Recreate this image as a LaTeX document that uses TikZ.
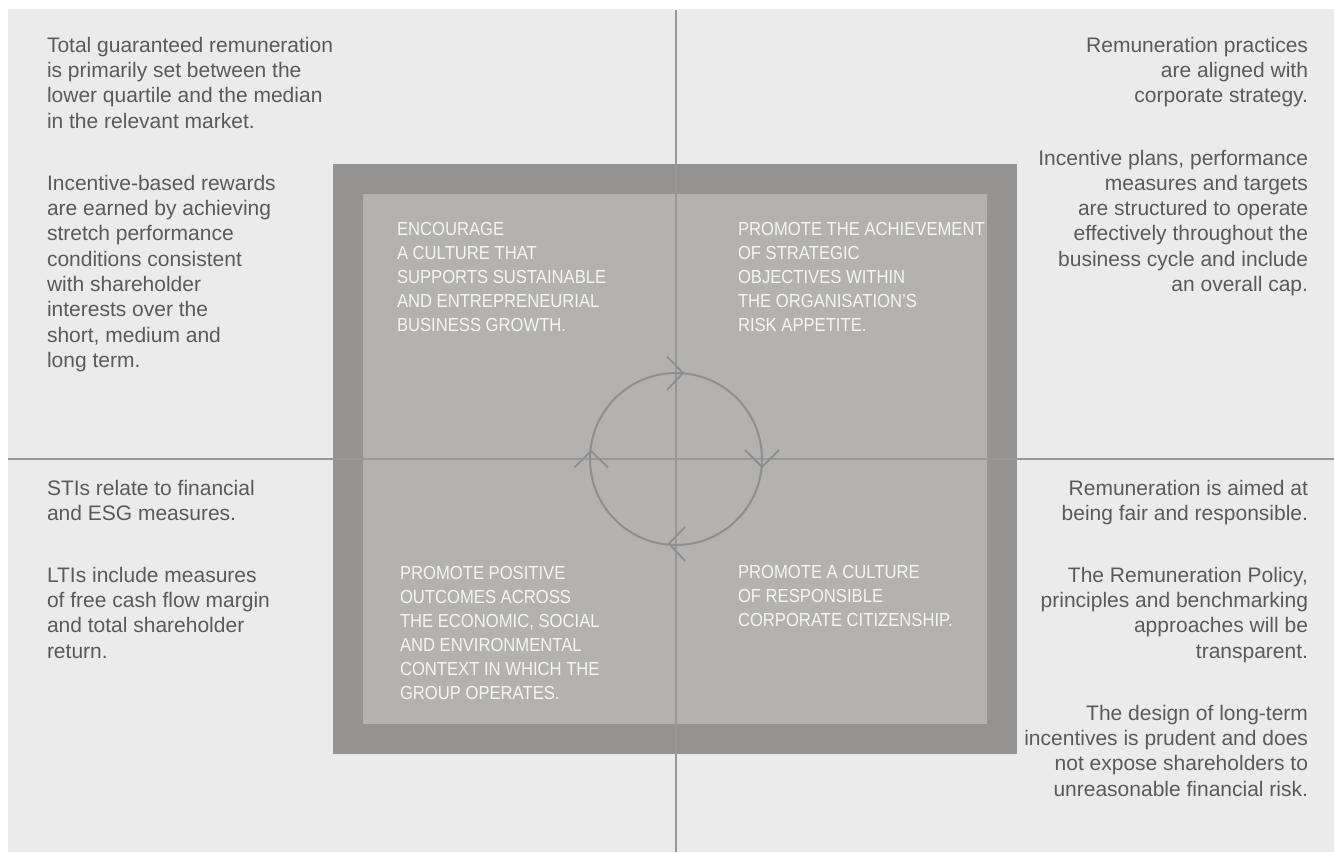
\documentclass[tikz,border=0pt]{standalone}
\usepackage{fontspec}
\setmainfont{Liberation Sans}
\newfontfamily\innerfont[FakeStretch=0.88]{Liberation Sans}
\definecolor{panel}{HTML}{EBEBEB}
\definecolor{frame}{HTML}{949391}
\definecolor{innerbox}{HTML}{B3B2B0}
\definecolor{rule}{HTML}{989898}
\definecolor{ring}{HTML}{8E8E8E}
\definecolor{outertext}{HTML}{5A5A5A}
\definecolor{innertext}{HTML}{F5F5F5}
\begin{document}
\begin{tikzpicture}[x=1pt,y=-1pt,
  outerpara/.style={text=outertext, font=\fontsize{21}{25.3}\selectfont, inner sep=0pt, outer sep=0pt},
  leftpara/.style={outerpara, anchor=base west, align=left},
  rightpara/.style={outerpara, anchor=base east, align=right},
  goal/.style={text=innertext, font=\innerfont\fontsize{18.9}{24}\selectfont, inner sep=0pt, outer sep=0pt, anchor=base west, align=left},
  rulebar/.style={draw=rule, line width=2pt},
  ringline/.style={draw=ring, line width=2pt},
  chevron/.style={draw=ring, line width=1.8pt}]
\useasboundingbox (0,0) rectangle (1334,852);
\fill[white] (0,0) rectangle (1334,852);
% panel and boxes
\fill[panel] (8,9) rectangle (1334,852);
\fill[frame] (333,164) rectangle (1017,754);
\fill[innerbox] (363,194) rectangle (987,724);
% quadrant rules
\coordinate (hl) at (8,458.5);
\coordinate (hr) at (1334,458.5);
\coordinate (vt) at (676,10);
\coordinate (vb) at (676,852);
\draw[rulebar] (hl) -- (hr);
\draw[rulebar] (vt) -- (vb);
% cycle
\coordinate (cc) at (676,459);
\draw[ringline] (cc) circle[radius=86];
\draw[chevron] (667,356.5) -- (683,373) -- (667,390);
\draw[chevron] (745,450) -- (762,467) -- (779,450);
\draw[chevron] (685,527) -- (669,543.5) -- (685,561);
\draw[chevron] (574.5,467.5) -- (591,451) -- (608,467.5);
% outer texts (anchored at the baseline of their last line)
\node[leftpara] (tl1) at (47,128.2) {Total guaranteed remuneration\\is primarily set between the\\lower quartile and the median\\in the relevant market.};
\node[leftpara] (tl2) at (47,367.3) {Incentive-based rewards\\are earned by achieving\\stretch performance\\conditions consistent\\with shareholder\\interests over the\\short, medium and\\long term.};
\node[rightpara] (tr1) at (1308,102.9) {Remuneration practices\\are aligned with\\corporate strategy.};
\node[rightpara] (tr2) at (1308,291.5) {Incentive plans, performance\\measures and targets\\are structured to operate\\effectively throughout the\\business cycle and include\\an overall cap.};
\node[leftpara] (bl1) at (47,520.3) {STIs relate to financial\\and ESG measures.};
\node[leftpara] (bl2) at (47,658.2) {LTIs include measures\\of free cash flow margin\\and total shareholder\\return.};
\node[rightpara] (br1) at (1308,520.3) {Remuneration is aimed at\\being fair and responsible.};
\node[rightpara] (br2) at (1308,658.2) {The Remuneration Policy,\\principles and benchmarking\\approaches will be\\transparent.};
\node[rightpara] (br3) at (1308,796.1) {The design of long-term\\incentives is prudent and does\\not expose shareholders to\\unreasonable financial risk.};
% inner texts
\node[goal] (g1) at (397,331) {ENCOURAGE\\A CULTURE THAT\\SUPPORTS SUSTAINABLE\\AND ENTREPRENEURIAL\\BUSINESS GROWTH.};
\node[goal] (g2) at (738,331) {PROMOTE THE ACHIEVEMENT\\OF STRATEGIC\\OBJECTIVES WITHIN\\THE ORGANISATION’S\\RISK APPETITE.};
\node[goal] (g3) at (400,699.3) {PROMOTE POSITIVE\\OUTCOMES ACROSS\\THE ECONOMIC, SOCIAL\\AND ENVIRONMENTAL\\CONTEXT IN WHICH THE\\GROUP OPERATES.};
\node[goal] (g4) at (738,626) {PROMOTE A CULTURE\\OF RESPONSIBLE\\CORPORATE CITIZENSHIP.};
\end{tikzpicture}
\end{document}
